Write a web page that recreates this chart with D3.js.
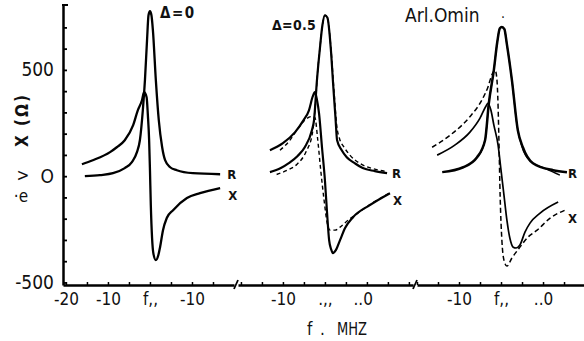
<!DOCTYPE html>
<html><head><meta charset="utf-8">
<script src="https://cdn.jsdelivr.net/npm/d3@7"></script>
<style>
body{margin:0;background:#fff}
svg{display:block}
text{font-family:"Liberation Sans Narrow","DejaVu Sans Condensed","Liberation Sans",Arial,sans-serif;fill:#111}
</style>
</head><body>
<svg id="c" width="584" height="341"></svg>
<script>
// ---- data (frequency offset in MHz, impedance in ohms) ----
const p1R = [[-15.5,0],[-11.9,5],[-8.8,14],[-6.0,38],[-4.3,66],[-3.1,113],[-2.4,169],[-1.7,310],[-1.2,451],[-0.7,639],[-0.35,757],[0,776],[0.35,757],[0.7,686],[1.4,451],[2.1,263],[2.9,136],[3.6,75],[4.8,42],[6.4,28],[10.2,14],[16.7,9]];
const p1X = [[-16.2,56],[-13.6,75],[-9.5,113],[-7.9,136],[-6.0,169],[-4.0,240],[-2.9,310],[-1.9,357],[-1.4,395],[-0.8,371],[-0.5,287],[-0.2,169],[0,28],[0.2,-136],[0.5,-291],[0.8,-362],[1.4,-395],[2.0,-371],[2.4,-334],[3.1,-254],[4.0,-197],[5.5,-160],[8.8,-103],[11.9,-80],[16.7,-56]];

const p2R = [[-13.1,19],[-10.5,38],[-8.6,61],[-6.5,95],[-4.8,136],[-3.1,216],[-2.6,263],[-1.9,451],[-1.2,600],[-0.6,710],[0,757],[0.6,745],[1.4,600],[2.0,420],[2.5,280],[2.9,169],[4.0,122],[5.2,89],[7.1,61],[9.0,38],[11.9,24],[14.8,14]];
const p2Rd = [[-11.5,8],[-9.0,28],[-6.7,55],[-4.5,115],[-3.0,200],[-2.3,330],[-1.7,500],[-1.1,620],[-0.6,710],[0,757],[0.6,745],[1.4,610],[2.2,390],[2.8,240],[3.5,175],[4.5,138],[6.0,98],[8.5,58],[11.5,35],[14.5,22]];
const p2X = [[-13.1,122],[-10,155],[-7.1,207],[-5.2,260],[-3.8,310],[-2.9,375],[-2.4,395],[-1.9,360],[-1.4,296],[-0.7,136],[0,-19],[0.5,-170],[1.0,-301],[1.5,-345],[1.9,-362],[2.6,-348],[3.6,-301],[4.8,-244],[6.7,-193],[10.7,-136],[15.5,-80]];
const p2Xd = [[-10.7,122],[-8.5,165],[-6.7,216],[-4.8,263],[-3.3,280],[-2.4,277],[-1.7,169],[-1.0,28],[-0.2,-113],[0.5,-216],[1.2,-254],[2.4,-254],[3.6,-240],[5.5,-207],[6.7,-190],[10.7,-134],[15.5,-78]];

const p3R = [[-14.0,19],[-9.0,42],[-5.7,89],[-3.8,169],[-2.9,343],[-1.7,500],[-0.9,630],[-0.3,695],[0.2,702],[0.8,692],[1.4,620],[2.6,451],[4.0,216],[5.2,136],[7.6,61],[12.4,28],[15.7,19]];
const p3R2 = [[-5.7,89],[-3.8,169],[-2.9,343],[-1.7,500],[-0.9,630],[-0.3,695],[0.2,702],[0.8,692],[1.4,620],[2.6,451],[3.8,240],[4.8,150],[6.9,72],[10.9,33],[14.0,5]];
const p3X = [[-15.2,99],[-11.0,146],[-7.4,207],[-5.0,273],[-3.6,329],[-3.1,343],[-2.4,310],[-1.7,240],[-0.7,146],[0,28],[0.7,-89],[1.4,-207],[2.1,-291],[2.9,-334],[3.6,-338],[4.5,-324],[5.7,-263],[6.9,-221],[9.3,-174],[13.6,-122]];
const p3Xd = [[-16.4,136],[-12.1,193],[-7.4,280],[-4.5,360],[-3.1,420],[-2.1,480],[-1.4,498],[-1.0,460],[-0.7,330],[-0.5,170],[-0.2,-100],[0.2,-300],[0.7,-395],[1.4,-423],[2.6,-385],[4.5,-334],[6.4,-287],[8.6,-254],[11.7,-197],[15.2,-160]];

// ---- tick labels ----
const yMinorTicks = [-500,-400,-300,-200,-100,0,100,200,300,400,500,600,700];
const yLabelTicks = [-500,0,500];
const yLabelTexts = ["-500","O","500"];
const p1Ticks = [-20,-10,0,10];
const p1TickTexts = ["-20","-10","f,,","-10"];
const p2Ticks = [-10,0,9];
const p2TickTexts = ["-10",".,,","..0"];
const p3Ticks = [-10,0,10];
const p3TickTexts = ["-10","f,,","..0"];
const panelTitles = ["\u0394=0","\u0394=0.5","Arl.Omin"];

// ---- layout ----
const svg = d3.select("#c");
const y = d3.scaleLinear().domain([-512, 810]).range([285, 4]);
const x1 = d3.scaleLinear().domain([-20.7, 20]).range([63, 234]);
const x2 = d3.scaleLinear().domain([-20.7, 21]).range([238, 413.1]);
const x3 = d3.scaleLinear().domain([-20, 19.8]).range([417, 584.2]);

const panels = [
  {x:x1, ticks:p1Ticks, texts:p1TickTexts, minor:d3.range(-20,20,5),
   series:[{d:p1R,w:2.3},{d:p1X,w:2.3}],
   labels:[{s:p1R,t:"R",dx:7,dy:5},{s:p1X,t:"X",dx:8,dy:12}]},
  {x:x2, ticks:p2Ticks, texts:p2TickTexts, minor:d3.range(-20,21,5),
   series:[{d:p2Rd,w:1.4,dash:"4,3"},{d:p2Xd,w:1.4,dash:"4,3"},{d:p2R,w:2.2},{d:p2X,w:2.2}],
   labels:[{s:p2R,t:"R",dx:5,dy:5},{s:p2X,t:"X",dx:3,dy:12}]},
  {x:x3, ticks:p3Ticks, texts:p3TickTexts, minor:d3.range(-20,20,5),
   series:[{d:p3Xd,w:1.5,dash:"5,3"},{d:p3R2,w:1.3},{d:p3X,w:1.7},{d:p3R,w:2.5}],
   labels:[{s:p3R,t:"R",dx:1,dy:6},{s:p3Xd,t:"X",dx:3,dy:13}]}
];

panels.forEach(p => {
  const gA = svg.append("g").attr("transform","translate(0,285)");
  gA.call(d3.axisBottom(p.x).tickValues(p.minor).tickSizeInner(-3).tickSizeOuter(0).tickFormat(""));
  gA.select(".domain").attr("stroke","#000").attr("stroke-width",2.5);
  gA.selectAll(".tick line").attr("stroke","#000").attr("stroke-width",1.5);
  const gL = svg.append("g").attr("transform","translate(0,285)");
  gL.call(d3.axisBottom(p.x).tickValues(p.ticks).tickSize(0).tickPadding(8)
     .tickFormat((d,i)=>p.texts[i]));
  gL.select(".domain").remove();
  gL.selectAll("text").attr("font-size",17).attr("fill","#111");
  const line = d3.line().x(d=>p.x(d[0])).y(d=>y(d[1])).curve(d3.curveMonotoneX);
  p.series.forEach(s => {
    svg.append("path").datum(s.d).attr("d",line)
      .attr("fill","none").attr("stroke","#000").attr("stroke-width",s.w)
      .attr("stroke-dasharray",s.dash||null).attr("stroke-linejoin","round");
  });
  p.labels.forEach(l => {
    const e = l.s[l.s.length-1];
    svg.append("text").attr("x",p.x(e[0])+l.dx).attr("y",y(e[1])+l.dy)
      .attr("font-family","Liberation Sans, Arial, sans-serif")
      .attr("font-weight","bold").attr("font-size",13).text(l.t);
  });
});

// axis breaks
[236, 415].forEach(bx => {
  svg.append("line").attr("x1",bx-2).attr("y1",289).attr("x2",bx+2).attr("y2",280)
    .attr("stroke","#000").attr("stroke-width",1.8);
});

// y axis
const gY = svg.append("g").attr("transform","translate(63,0)");
gY.call(d3.axisLeft(y).tickValues(yMinorTicks).tickSizeInner(-4).tickSizeOuter(0).tickFormat(""));
gY.select(".domain").attr("stroke","#000").attr("stroke-width",2.5);
gY.selectAll(".tick line").attr("stroke","#000").attr("stroke-width",1.8);
const gYL = svg.append("g").attr("transform","translate(63,0)");
gYL.call(d3.axisLeft(y).tickValues(yLabelTicks).tickSize(0).tickPadding(9).tickFormat((d,i)=>yLabelTexts[i]));
gYL.select(".domain").remove();
gYL.selectAll("text").attr("font-size",19).attr("fill","#111");
svg.append("line").attr("x1",62).attr("x2",68).attr("y1",5).attr("y2",5).attr("stroke","#000").attr("stroke-width",2);

// y axis title and stray marks
svg.append("text").attr("transform","translate(28,120) rotate(-90)").attr("text-anchor","middle")
  .attr("font-family","Liberation Sans, Arial, sans-serif").attr("font-weight","bold")
  .attr("font-size",17).attr("letter-spacing",2).text("X (\u03A9)");
svg.append("text").attr("x",23).attr("y",181).attr("text-anchor","middle").attr("font-size",17).text(">");
svg.append("text").attr("x",21).attr("y",202).attr("text-anchor","middle").attr("font-size",17).text("\u00B7e");

// panel titles
svg.append("text").attr("x",160).attr("y",18).attr("font-family","Liberation Sans, Arial, sans-serif")
  .attr("font-weight","bold").attr("font-size",15).attr("letter-spacing",1.5).text(panelTitles[0]);
svg.append("text").attr("x",272).attr("y",30).attr("font-family","Liberation Sans, Arial, sans-serif")
  .attr("font-weight","bold").attr("font-size",14).attr("letter-spacing",0.3).text(panelTitles[1]);
svg.append("text").attr("x",405).attr("y",22).attr("font-size",19).text(panelTitles[2]);
svg.append("text").attr("x",501).attr("y",18).attr("font-size",14).text(".");

// x axis title
svg.append("text").attr("x",307).attr("y",335).attr("font-size",17).text("f");
svg.append("text").attr("x",320).attr("y",335).attr("font-size",17).text(".");
svg.append("text").attr("x",337).attr("y",335).attr("font-size",17)
  .attr("textLength",30).attr("lengthAdjust","spacingAndGlyphs").text("MHZ");
</script>
</body></html>
